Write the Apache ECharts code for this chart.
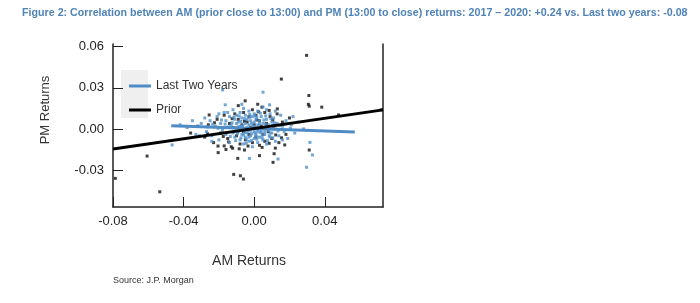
<!DOCTYPE html>
<html><head><meta charset="utf-8">
<script src="https://cdn.jsdelivr.net/npm/echarts@6/dist/echarts.min.js"></script>
<style>html,body{margin:0;padding:0;background:#fff}#c{width:700px;height:303px}</style>
</head><body><div id="c"></div>
<script>
const titleText = "Figure 2: Correlation between AM (prior close to 13:00) and PM (13:00 to close) returns: 2017 \u2013 2020: +0.24 vs. Last two years: -0.08";
const xTicks = [-0.08, -0.04, 0.00, 0.04];
const yTicks = [-0.03, 0.00, 0.03, 0.06];
const seriesNames = ["Last Two Years", "Prior"];
// regression lines [AM, PM]
const lastTwoYearsLine = [[-0.047, 0.0024], [0.057, -0.0022]];
const priorLine = [[-0.080, -0.0146], [0.073, 0.0139]];
// scatter: last two years
const lastTwoYearsPts = [
[-0.0179,0.0285],[0.0050,0.0268],[0.0297,-0.0280],[0.0330,-0.0190],[0.0316,-0.0098],[-0.0465,-0.0117],
[-0.0027,-0.0215],[0.0135,-0.0220],[0.0087,0.0176],[-0.0164,0.0176],
[-0.042,0.003],[-0.038,0.001],[-0.035,0.006],[-0.033,-0.004],
[-0.030,0.004],[-0.027,-0.002],[-0.025,0.006],[-0.024,-0.005],[-0.022,0.002],[-0.021,0.009],[-0.020,-0.008],
[-0.019,0.004],[-0.018,-0.001],[-0.017,0.012],[-0.016,0.006],[-0.016,-0.004],[-0.015,0.001],[-0.014,0.009],
[-0.014,-0.010],[-0.013,0.003],[-0.012,-0.003],[-0.012,0.014],[-0.011,0.007],[-0.011,-0.006],[-0.010,0.001],
[-0.010,0.010],[-0.009,-0.002],[-0.009,0.005],[-0.008,-0.008],[-0.008,0.012],[-0.008,0.002],[-0.007,-0.004],
[-0.007,0.008],[-0.006,0.000],[-0.006,0.015],[-0.006,-0.011],[-0.005,0.004],[-0.005,-0.006],[-0.005,0.010],
[-0.004,0.001],[-0.004,-0.003],[-0.004,0.007],[-0.003,-0.009],[-0.003,0.003],[-0.003,0.013],[-0.002,-0.001],
[-0.002,0.006],[-0.002,-0.005],[-0.001,0.002],[-0.001,0.009],[-0.001,-0.013],[0.000,-0.002],[0.000,0.005],
[0.000,0.011],[0.000,-0.007],[0.001,0.001],[0.001,0.007],[0.001,-0.004],[0.002,0.003],[0.002,-0.010],
[0.002,0.013],[0.003,0.000],[0.003,0.006],[0.003,-0.006],[0.004,0.009],[0.004,-0.002],[0.005,0.004],
[0.005,-0.008],[0.005,0.016],[0.006,0.001],[0.006,-0.004],[0.007,0.007],[0.007,-0.011],[0.008,0.003],
[0.008,-0.001],[0.009,0.011],[0.009,-0.006],[0.010,0.005],[0.010,-0.003],[0.011,0.008],[0.012,0.000],
[0.012,-0.009],[0.013,0.004],[0.014,-0.005],[0.015,0.010],[0.016,0.002],[0.017,-0.002],[0.018,0.006],
[0.019,-0.007],[0.021,0.003],[0.023,-0.003],[0.025,0.005],[0.028,0.000],
[-0.0125,0.0045],[-0.0095,-0.0035],[-0.0065,0.0025],[-0.0035,-0.0015],[-0.0015,0.0040],[0.0005,-0.0030],
[0.0025,0.0015],[0.0045,-0.0045],[0.0065,0.0035],[0.0085,-0.0050],[-0.0075,0.0055],[-0.0045,-0.0075],
[0.0015,0.0085],[0.0035,-0.0025],[0.0055,0.0065],[-0.0105,-0.0015],[-0.0025,0.0105],[0.0075,0.0015],
[0.0105,0.0025],[-0.0145,0.0015],[-0.0185,0.0065],[0.0135,-0.0015],[-0.0055,-0.0025],[0.0010,-0.0055],
[-0.0115,0.0085],[-0.0085,0.0095],[-0.0055,0.0075],[-0.0025,0.0085],[0.0005,0.0095],[0.0035,0.0115],
[0.0065,0.0095],[0.0095,0.0075],[-0.0135,-0.0055],[-0.0105,-0.0085],[-0.0075,-0.0065],[-0.0045,-0.0105],
[-0.0015,-0.0085],[0.0015,-0.0075],[0.0045,-0.0065],[0.0075,-0.0085],[0.0105,-0.0065],[-0.0165,0.0035],
[-0.0205,0.0005],[-0.0235,0.0035],[-0.0265,0.0015],[0.0115,0.0045],[0.0145,0.0025],[0.0175,0.0035],
[0.0205,0.0005],[-0.0015,-0.0035],[0.0020,-0.0020],[0.0040,0.0005],[-0.0060,-0.0045],[-0.0090,0.0015],
[0.0060,-0.0020],[0.0090,-0.0030],[-0.0030,-0.0060],[0.0000,0.0020],[-0.0100,0.0040],[0.0030,0.0040],
[-0.0200,0.0110],[-0.0150,0.0120],[0.0120,0.0130],[-0.0240,-0.0090],[0.0160,-0.0080],[-0.0070,0.0180],
[0.0070,0.0140],[-0.0280,0.0080],[0.0220,0.0090],[-0.0310,-0.0050]
];
// scatter: prior
const priorPts = [
[0.0297,0.0537],[0.0154,0.0364],[0.0310,0.0244],[0.0307,0.0180],[0.0312,0.0166],[0.0383,0.0159],
[-0.0051,0.0205],[0.0044,0.0159],[0.0131,0.0146],[-0.0255,0.0102],[0.0720,0.0140],[0.0478,0.0102],
[-0.0607,-0.0198],[-0.0787,-0.0361],[-0.0535,-0.0459],[-0.0116,-0.0332],[-0.0078,-0.0342],[-0.0061,-0.0366],
[0.0312,-0.0154],[0.0107,-0.0244],[0.0113,-0.0181],[-0.0204,-0.0173],[-0.0093,-0.0215],[-0.0170,-0.0124],
[-0.0122,-0.0141],[0.0173,-0.0117],[0.0030,-0.0195],[-0.0055,-0.0154],[0.0122,-0.0044],
[-0.028,-0.006],[-0.026,0.003],[-0.023,-0.010],[-0.021,0.007],[-0.019,-0.003],[-0.017,0.010],[-0.015,-0.007],
[-0.014,0.004],[-0.013,-0.013],[-0.012,0.001],[-0.011,0.011],[-0.010,-0.005],[-0.009,0.007],[-0.008,-0.011],
[-0.007,0.003],[-0.006,-0.002],[-0.006,0.012],[-0.005,-0.008],[-0.004,0.005],[-0.003,-0.004],[-0.003,0.009],
[-0.002,0.001],[-0.001,-0.010],[-0.001,0.014],[0.000,0.003],[0.001,-0.006],[0.001,0.010],[0.002,0.000],
[0.003,-0.012],[0.003,0.006],[0.004,0.002],[0.005,-0.004],[0.006,0.012],[0.006,-0.009],[0.007,0.004],
[0.008,-0.002],[0.009,0.009],[0.010,-0.007],[0.011,0.002],[0.013,0.011],[0.014,-0.010],[0.016,0.005],
[0.018,-0.004],[0.020,0.008],[-0.032,0.002],[-0.036,-0.003],[-0.016,-0.015],[0.012,-0.014],[0.002,0.018],
[-0.009,0.017],[-0.0205,-0.0125],[-0.0145,-0.0095],[-0.0085,-0.0145],[0.0045,-0.0135],[0.0085,-0.0105],
[-0.0225,0.0045],[-0.0125,0.0075],[0.0025,0.0125],[0.0105,0.0065],[-0.0175,-0.0055],[-0.0035,-0.0125],
[0.0155,-0.0065],[-0.0265,-0.0035],[0.0015,0.0065],[-0.0055,0.0055],[0.0085,0.0135]
];

const chart = echarts.init(document.getElementById('c'), null, {renderer: 'canvas'});
const font = "'Liberation Sans', Arial, sans-serif";
const blue = '#4f8cc6', dotBlue = '#4f90cc';
chart.setOption({
  animation: false,
  backgroundColor: '#fff',
  textStyle: {fontFamily: font},
  grid: {left: 113, right: 317, top: 44, bottom: 96, containLabel: false},
  xAxis: {
    type: 'value', min: -0.08, max: 0.073,
    axisLine: {show: true, onZero: false, lineStyle: {color: '#222', width: 1.5}},
    axisTick: {show: true, inside: true, length: 10, customValues: xTicks, lineStyle: {color: '#222'}},
    axisLabel: {customValues: xTicks, formatter: v => v.toFixed(2), color: '#222', fontSize: 13, margin: 8},
    splitLine: {show: false}
  },
  yAxis: [{
    type: 'value', min: -0.057, max: 0.062,
    axisLine: {show: true, onZero: false, lineStyle: {color: '#222', width: 1.5}},
    axisTick: {show: true, inside: true, length: 10, customValues: yTicks, lineStyle: {color: '#222'}},
    axisLabel: {customValues: yTicks, formatter: v => v.toFixed(2), color: '#222', fontSize: 13, margin: 9},
    splitLine: {show: false}
  }, {
    type: 'value', min: -0.057, max: 0.062, position: 'right',
    axisLine: {show: true, onZero: false, lineStyle: {color: '#222', width: 1.5}},
    axisTick: {show: false}, axisLabel: {show: false}, splitLine: {show: false}
  }],
  legend: {
    data: seriesNames, orient: 'vertical', left: 124, top: 75, itemGap: 12,
    icon: 'rect', itemWidth: 22, itemHeight: 3,
    textStyle: {color: '#333', fontSize: 12, fontFamily: font}
  },
  graphic: [
    {type: 'rect', z: -1, shape: {x: 121, y: 70, width: 27, height: 48}, style: {fill: '#efefef'}},
    {type: 'text', left: 22, top: 8, style: {text: titleText, fill: '#4f83b8', font: "bold 10.7px 'Liberation Sans', Arial, sans-serif"}},
    {type: 'text', x: 45, y: 110, rotation: Math.PI/2, style: {text: 'PM Returns', fill: '#333', font: "13px 'Liberation Sans', Arial, sans-serif", align: 'center', verticalAlign: 'middle'}},
    {type: 'text', x: 249, y: 261, style: {text: 'AM Returns', fill: '#333', font: "14px 'Liberation Sans', Arial, sans-serif", align: 'center', verticalAlign: 'middle'}},
    {type: 'text', x: 113, y: 281, style: {text: 'Source: J.P. Morgan', fill: '#333', font: "9px 'Liberation Sans', Arial, sans-serif", verticalAlign: 'middle'}}
  ],
  series: [
    {name: 'prior-dots', type: 'scatter', data: priorPts, symbol: 'rect', symbolSize: 3, itemStyle: {color: '#111'}, z: 2},
    {name: 'last-dots', type: 'scatter', data: lastTwoYearsPts, symbol: 'rect', symbolSize: 3, itemStyle: {color: dotBlue}, z: 3},
    {name: seriesNames[0], type: 'line', data: lastTwoYearsLine, symbol: 'none', lineStyle: {color: blue, width: 3}, itemStyle: {color: blue}, z: 4},
    {name: seriesNames[1], type: 'line', data: priorLine, symbol: 'none', lineStyle: {color: '#000', width: 3}, itemStyle: {color: '#000'}, z: 5}
  ]
});
</script></body></html>
